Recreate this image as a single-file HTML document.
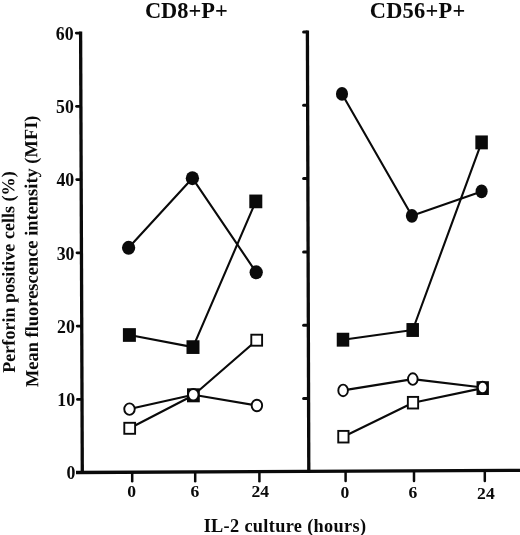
<!DOCTYPE html>
<html><head><meta charset="utf-8"><title>Perforin expression in IL-2 culture</title>
<style>
html,body{margin:0;padding:0;background:#fff;}
body{width:520px;height:535px;overflow:hidden;font-family:"Liberation Serif",serif;}
svg{display:block;}
</style></head><body>
<svg width="520" height="535" viewBox="0 0 520 535">
<rect width="520" height="535" fill="#fff"/>
<g stroke="#0a0a0a" stroke-width="3.3" fill="none" stroke-linecap="butt">
<path d="M80.6,31.5 L82.3,474"/>
<path d="M307.4,30.5 L308.8,473"/>
<path d="M76,472.45 L520,470.35" stroke-width="3.4"/>
</g>
<g stroke="#0a0a0a" stroke-width="2.5" fill="none" stroke-linecap="round">
<path d="M76.30,33.1 H80.30" stroke-width="2.8"/>
<path d="M303.6,32.0 H307" stroke-width="3"/>
<path d="M76.53,106.3 H80.53" stroke-width="2.8"/>
<path d="M303.6,105.3 H307" stroke-width="3"/>
<path d="M76.77,179.6 H80.77" stroke-width="2.8"/>
<path d="M303.6,178.6 H307" stroke-width="3"/>
<path d="M77.00,252.8 H81.00" stroke-width="2.8"/>
<path d="M303.6,251.9 H307" stroke-width="3"/>
<path d="M77.24,326.1 H81.24" stroke-width="2.8"/>
<path d="M303.6,325.2 H307" stroke-width="3"/>
<path d="M77.47,399.4 H81.47" stroke-width="2.8"/>
<path d="M303.6,398.5 H307" stroke-width="3"/>
<path d="M77.71,472.6 H81.71" stroke-width="2.8"/>
<path d="M132.2,473 V481.3"/>
<path d="M195.2,473 V481.3"/>
<path d="M259.4,473 V481.3"/>
<path d="M345.6,472 V481"/>
<path d="M414,472 V481"/>
<path d="M484.8,472 V481"/>
</g>
<g stroke="#0a0a0a" stroke-width="2.1" fill="none" stroke-linejoin="round">
<polyline points="128.6,247.8 192.4,178.2 256.2,272.3"/>
<polyline points="129.4,335 193,347.1 255.8,201.4"/>
<polyline points="129.5,409.1 193.3,394.7 256.9,405.5"/>
<polyline points="129.7,428.3 193.4,395.3 256.7,340.2"/>
<polyline points="342.0,93.9 411.9,215.8 481.6,191.4"/>
<polyline points="343.0,339.7 412.7,330 481.6,142.4"/>
<polyline points="343.1,390.4 412.8,379.1 482.6,387.5"/>
<polyline points="343.4,436.7 413,402.7 482.7,388.1"/>
</g>
<rect x="122.90" y="328.15" width="13" height="13.7" fill="#0a0a0a"/>
<rect x="186.50" y="340.25" width="13" height="13.7" fill="#0a0a0a"/>
<rect x="249.30" y="194.55" width="13" height="13.7" fill="#0a0a0a"/>
<ellipse cx="128.6" cy="247.8" rx="6.65" ry="6.95" fill="#0a0a0a"/>
<ellipse cx="192.4" cy="178.2" rx="6.65" ry="6.95" fill="#0a0a0a"/>
<ellipse cx="256.2" cy="272.3" rx="6.65" ry="6.95" fill="#0a0a0a"/>
<rect x="124.30" y="422.80" width="10.80" height="11.00" fill="#fff" stroke="#0a0a0a" stroke-width="1.9"/>
<rect x="187.00" y="388.30" width="12.8" height="14.0" fill="#0a0a0a"/>
<rect x="251.30" y="334.70" width="10.80" height="11.00" fill="#fff" stroke="#0a0a0a" stroke-width="1.9"/>
<ellipse cx="129.5" cy="409.1" rx="5.25" ry="5.75" fill="#fff" stroke="#0a0a0a" stroke-width="1.9"/>
<ellipse cx="193.3" cy="394.7" rx="5.25" ry="5.75" fill="#fff" stroke="#0a0a0a" stroke-width="1.9"/>
<ellipse cx="256.9" cy="405.5" rx="5.25" ry="5.75" fill="#fff" stroke="#0a0a0a" stroke-width="1.9"/>
<rect x="336.75" y="332.75" width="12.5" height="13.9" fill="#0a0a0a"/>
<rect x="406.45" y="323.05" width="12.5" height="13.9" fill="#0a0a0a"/>
<rect x="475.35" y="135.45" width="12.5" height="13.9" fill="#0a0a0a"/>
<ellipse cx="342.0" cy="93.9" rx="6.05" ry="6.90" fill="#0a0a0a"/>
<ellipse cx="411.9" cy="215.8" rx="6.05" ry="6.90" fill="#0a0a0a"/>
<ellipse cx="481.6" cy="191.4" rx="6.05" ry="6.90" fill="#0a0a0a"/>
<rect x="338.25" y="430.90" width="10.30" height="11.60" fill="#fff" stroke="#0a0a0a" stroke-width="1.9"/>
<rect x="407.85" y="396.90" width="10.30" height="11.60" fill="#fff" stroke="#0a0a0a" stroke-width="1.9"/>
<rect x="476.50" y="381.20" width="12.4" height="13.8" fill="#0a0a0a"/>
<ellipse cx="343.1" cy="390.4" rx="4.80" ry="5.80" fill="#fff" stroke="#0a0a0a" stroke-width="1.9"/>
<ellipse cx="412.8" cy="379.1" rx="4.80" ry="5.80" fill="#fff" stroke="#0a0a0a" stroke-width="1.9"/>
<ellipse cx="482.6" cy="387.5" rx="4.80" ry="5.80" fill="#fff" stroke="#0a0a0a" stroke-width="1.9"/>
<g font-family="'Liberation Serif', serif" font-weight="bold" fill="#0a0a0a">
<text x="186.3" y="17.7" font-size="22.4" text-anchor="middle">CD8+P+</text>
<text x="417.6" y="17.7" font-size="22.4" letter-spacing="0.25" text-anchor="middle">CD56+P+</text>
<text x="73.60" y="39.8" font-size="17.8" text-anchor="end">60</text>
<text x="73.90" y="113.0" font-size="17.8" text-anchor="end">50</text>
<text x="74.20" y="186.3" font-size="17.8" text-anchor="end">40</text>
<text x="74.50" y="259.6" font-size="17.8" text-anchor="end">30</text>
<text x="74.80" y="332.8" font-size="17.8" text-anchor="end">20</text>
<text x="75.10" y="406.1" font-size="17.8" text-anchor="end">10</text>
<text x="75.40" y="479.3" font-size="17.8" text-anchor="end">0</text>
<text x="131.6" y="496.9" font-size="17.6" text-anchor="middle">0</text>
<text x="194.8" y="496.9" font-size="17.6" text-anchor="middle">6</text>
<text x="260.3" y="496.9" font-size="17.6" text-anchor="middle">24</text>
<text x="344.9" y="498.0" font-size="17.6" text-anchor="middle">0</text>
<text x="413" y="497.6" font-size="17.6" text-anchor="middle">6</text>
<text x="485.9" y="498.9" font-size="17.6" text-anchor="middle">24</text>
<text x="285.0" y="532.3" font-size="18.3" letter-spacing="0.33" text-anchor="middle">IL-2 culture (hours)</text>
<text transform="translate(14.5,272) rotate(-90.25)" font-size="18.1" text-anchor="middle">Perforin positive cells (%)</text>
<text transform="translate(37.6,251.3) rotate(-90.25)" font-size="18.45" text-anchor="middle">Mean fluorescence intensity (MFI)</text>
</g>
</svg>
</body></html>
